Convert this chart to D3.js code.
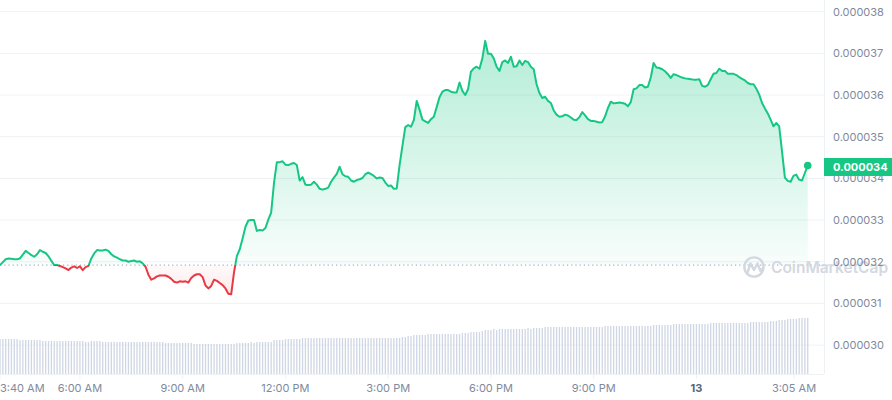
<!DOCTYPE html>
<html>
<head>
<meta charset="utf-8">
<title>Price chart 1D</title>
<script src="https://cdn.jsdelivr.net/npm/d3@7"></script>
<style>
  html, body { margin: 0; padding: 0; background: #fff; }
  svg { display: block; font-family: Inter, "Noto Sans", sans-serif; }
</style>
</head>
<body>
<svg id="chart" width="892" height="400"></svg>
<script>
// price every 5 minutes from 3:40 AM (12th), in units of 1e-6 USD
var prices = [
  31.92, 31.99, 32.06, 32.08, 32.07, 32.06, 32.06, 32.08, 32.17, 32.26,
  32.21, 32.16, 32.12, 32.18, 32.28, 32.24, 32.21, 32.13, 32.02, 31.92,
  31.92, 31.90, 31.87, 31.84, 31.80, 31.86, 31.89, 31.85, 31.89, 31.80,
  31.87, 31.90, 32.08, 32.20, 32.28, 32.27, 32.27, 32.29, 32.26, 32.18,
  32.13, 32.10, 32.06, 32.03, 32.03, 32.00, 32.02, 32.03, 32.00, 32.01,
  31.96, 31.88, 31.69, 31.57, 31.60, 31.65, 31.67, 31.67, 31.67, 31.64,
  31.59, 31.52, 31.50, 31.53, 31.52, 31.53, 31.50, 31.61, 31.67, 31.70,
  31.70, 31.63, 31.43, 31.36, 31.42, 31.57, 31.54, 31.49, 31.44, 31.36,
  31.23, 31.22, 31.75, 32.14, 32.30, 32.56, 32.84, 32.99, 33.00, 33.00,
  32.74, 32.76, 32.75, 32.81, 33.01, 33.18, 33.89, 34.39, 34.39, 34.41,
  34.33, 34.32, 34.35, 34.37, 34.32, 33.95, 34.03, 33.85, 33.84, 33.85,
  33.92, 33.85, 33.75, 33.73, 33.75, 33.78, 33.92, 34.02, 34.11, 34.28,
  34.10, 34.05, 34.04, 33.95, 33.92, 33.96, 33.98, 34.01, 34.10, 34.14,
  34.10, 34.06, 34.00, 34.02, 34.01, 33.90, 33.82, 33.83, 33.75, 33.76,
  34.32, 34.78, 35.23, 35.28, 35.24, 35.40, 35.86, 35.65, 35.41, 35.37,
  35.33, 35.42, 35.48, 35.71, 35.95, 36.08, 36.12, 36.12, 36.08, 36.06,
  36.06, 36.30, 36.10, 36.00, 36.14, 36.56, 36.64, 36.68, 36.63, 36.88,
  37.30, 36.99, 36.99, 36.88, 36.68, 36.58, 36.79, 36.83, 36.77, 36.92,
  36.68, 36.69, 36.83, 36.72, 36.82, 36.79, 36.68, 36.62, 36.26, 36.05,
  35.93, 35.96, 35.86, 35.81, 35.63, 35.53, 35.48, 35.49, 35.53, 35.51,
  35.46, 35.41, 35.40, 35.47, 35.59, 35.51, 35.42, 35.38, 35.38, 35.36,
  35.34, 35.35, 35.49, 35.69, 35.84, 35.80, 35.81, 35.82, 35.81, 35.79,
  35.73, 35.83, 36.14, 36.16, 36.24, 36.24, 36.18, 36.20, 36.42, 36.77,
  36.66, 36.65, 36.62, 36.57, 36.50, 36.41, 36.50, 36.48, 36.45, 36.42,
  36.40, 36.39, 36.38, 36.37, 36.37, 36.38, 36.22, 36.20, 36.24, 36.38,
  36.51, 36.53, 36.63, 36.58, 36.58, 36.51, 36.51, 36.51, 36.48, 36.43,
  36.39, 36.35, 36.29, 36.26, 36.26, 36.15, 36.01, 35.81, 35.68, 35.56,
  35.41, 35.25, 35.33, 35.25, 34.64, 34.02, 33.94, 33.92, 34.06, 34.09,
  33.97, 33.95, 34.13, 34.31
];

// rolling 24h volume for each 5 minute point (relative units)
var volume = [
  35,35,35,35,35,35,35,34,34,34, 34,34,34,34,34,33,33,33,33,33,
  33,33,33,33,33,33,33,33,33,33, 32,32,33,33,33,33,32,32,32,32,
  32,32,32,32,32,32,32,32,32,32, 32,32,32,32,32,32,32,32,31,31,
  31,31,31,31,31,31,31,31,30,30, 30,30,30,30,30,30,30,30,30,30,
  30,30,30,31,31,31,31,31,32,31, 32,32,32,32,32,32,34,34,34,34,
  35,35,35,35,35,35,36,36,36,36, 36,36,36,36,36,36,36,36,36,36,
  36,36,36,36,36,36,36,36,36,36, 36,36,36,36,36,36,36,36,36,36,
  36,37,37,38,38,39,39,39,39,39, 40,40,40,40,40,40,40,40,40,40,
  40,40,41,41,41,42,42,42,42,43, 44,44,44,45,44,45,45,45,45,45,
  45,45,45,45,45,46,45,46,46,46, 46,47,47,47,47,47,47,47,47,47,
  47,47,47,47,47,47,47,47,47,47, 47,47,48,48,48,48,48,48,48,48,
  48,48,48,48,48,48,48,48,48,49, 49,49,49,49,49,49,50,50,50,50,
  50,50,50,50,50,50,50,50,50,51, 51,51,51,51,51,51,51,51,51,51,
  51,51,51,52,52,52,52,52,52,52, 53,53,53,54,54,54,55,55,55,55,
  56,56,56,56
];

var yTicks = [30, 31, 32, 33, 34, 35, 36, 37, 38];
// [day, hour, minute]
var xTickTimes = [[12,3,40],[12,6,0],[12,9,0],[12,12,0],[12,15,0],[12,18,0],[12,21,0],[13,0,0],[13,3,5]];
var xTickLabels = ["3:40 AM","6:00 AM","9:00 AM","12:00 PM","3:00 PM","6:00 PM","9:00 PM","13","3:05 AM"];

var green = "#16c784", red = "#ea3943";
var plotRight = 824, plotBottom = 374;

var start = new Date(2024, 0, 12, 3, 40);
var data = prices.map(function(p, i) {
  return { t: d3.timeMinute.offset(start, 5 * i), p: p, v: volume[i] };
});
var open = prices[0];

var x = d3.scaleTime()
  .domain([start, d3.timeHour.offset(start, 24)])
  .range([0, 822]);
var y = d3.scaleLinear().domain([30, 38]).range([345.1, 11.7]);
var yVol = d3.scaleLinear().domain([0, d3.max(volume)]).range([plotBottom, plotBottom - d3.max(volume)]);

var svg = d3.select("#chart");
var defs = svg.append("defs");

var gGreen = defs.append("linearGradient").attr("id", "gGreen")
  .attr("gradientUnits", "userSpaceOnUse")
  .attr("x1", 0).attr("x2", 0).attr("y1", y(d3.max(prices))).attr("y2", y(open));
gGreen.append("stop").attr("offset", 0).attr("stop-color", green).attr("stop-opacity", 0.32);
gGreen.append("stop").attr("offset", 1).attr("stop-color", green).attr("stop-opacity", 0.03);

var gRed = defs.append("linearGradient").attr("id", "gRed")
  .attr("gradientUnits", "userSpaceOnUse")
  .attr("x1", 0).attr("x2", 0).attr("y1", y(open)).attr("y2", y(d3.min(prices)));
gRed.append("stop").attr("offset", 0).attr("stop-color", red).attr("stop-opacity", 0.02);
gRed.append("stop").attr("offset", 1).attr("stop-color", red).attr("stop-opacity", 0.12);

defs.append("clipPath").attr("id", "above").append("rect")
  .attr("x", -5).attr("y", 0).attr("width", plotRight + 5).attr("height", y(open));
defs.append("clipPath").attr("id", "below").append("rect")
  .attr("x", -5).attr("y", y(open)).attr("width", plotRight + 5).attr("height", 400 - y(open));

// grid
svg.append("g").selectAll("line").data(yTicks).enter().append("line")
  .attr("x1", 0).attr("x2", plotRight)
  .attr("y1", function(d) { return y(d); }).attr("y2", function(d) { return y(d); })
  .attr("stroke", "#eff2f5").attr("stroke-width", 1);
svg.append("line").attr("x1", plotRight + 0.5).attr("x2", plotRight + 0.5)
  .attr("y1", 0).attr("y2", plotBottom).attr("stroke", "#eff2f5");
svg.append("line").attr("x1", 0).attr("x2", plotRight)
  .attr("y1", plotBottom + 0.5).attr("y2", plotBottom + 0.5).attr("stroke", "#eff2f5");

// volume bars
svg.append("g").selectAll("rect").data(data).enter().append("rect")
  .attr("x", function(d) { return x(d.t) - 0.65; })
  .attr("width", 1.3)
  .attr("y", function(d) { return yVol(d.v); })
  .attr("height", function(d) { return plotBottom - yVol(d.v); })
  .attr("fill", "#cfd6e4");

// x ticks
var xt = svg.append("g");
xTickTimes.forEach(function(tt, i) {
  var t = new Date(2024, 0, tt[0], tt[1], tt[2]);
  var px = x(t);
  var lastTick = i == xTickTimes.length - 1;
  if (lastTick) px = px - 8; // the site draws its final tick a little left of the time
  xt.append("line").attr("x1", px).attr("x2", px)
    .attr("y1", plotBottom + 1).attr("y2", plotBottom + 5).attr("stroke", "#eff2f5");
  xt.append("text")
    .attr("x", px)
    .attr("y", 392)
    .attr("text-anchor", i == 0 ? "start" : "middle")
    .attr("font-size", "11px")
    .attr("font-weight", xTickLabels[i] == "13" ? 700 : 400)
    .attr("fill", xTickLabels[i] == "13" ? "#58667e" : "#808a9d")
    .text(xTickLabels[i]);
});

// areas
var area = d3.area()
  .x(function(d) { return x(d.t); })
  .y0(y(open))
  .y1(function(d) { return y(d.p); });
var line = d3.line()
  .x(function(d) { return x(d.t); })
  .y(function(d) { return y(d.p); });

svg.append("path").datum(data).attr("d", area)
  .attr("fill", "url(#gGreen)").attr("clip-path", "url(#above)");
svg.append("path").datum(data).attr("d", area)
  .attr("fill", "url(#gRed)").attr("clip-path", "url(#below)");

// open price reference
svg.append("line").attr("x1", 0).attr("x2", 832)
  .attr("y1", y(open)).attr("y2", y(open))
  .attr("stroke", "#a6b0c3").attr("stroke-width", 1.2).attr("stroke-dasharray", "1.2,3");

// watermark
var wm = svg.append("g").attr("fill", "none").attr("stroke", "#d3d8e1").attr("stroke-width", 2.4);
wm.append("circle").attr("cx", 754).attr("cy", 267).attr("r", 9.6);
wm.append("path").attr("d", "M747.5,272.5 L750.5,263.5 L754,270 L757.5,263.5 L760.5,271 L762.5,268.5")
  .attr("stroke-linejoin", "round").attr("stroke-linecap", "round");
svg.append("text").attr("x", 771).attr("y", 273)
  .attr("font-size", "15.5px").attr("font-weight", 600)
  .attr("fill", "#d3d8e1").text("CoinMarketCap");

// price line
svg.append("path").datum(data).attr("d", line)
  .attr("fill", "none").attr("stroke", green).attr("stroke-width", 2)
  .attr("stroke-linejoin", "round").attr("clip-path", "url(#above)");
svg.append("path").datum(data).attr("d", line)
  .attr("fill", "none").attr("stroke", red).attr("stroke-width", 2)
  .attr("stroke-linejoin", "round").attr("clip-path", "url(#below)");

var last = data[data.length - 1];
svg.append("circle").attr("cx", x(last.t)).attr("cy", y(last.p)).attr("r", 3.8).attr("fill", green);

// y axis labels
var fmt = function(v) { return (v * 1e-6).toFixed(6); };
svg.append("g").selectAll("text").data(yTicks).enter().append("text")
  .attr("x", 833)
  .attr("y", function(d) { return y(d); })
  .attr("dy", "0.35em")
  .attr("font-size", "11px")
  .attr("fill", "#808a9d")
  .text(fmt);

// current price badge
svg.append("rect").attr("x", plotRight).attr("y", y(last.p) - 7.5)
  .attr("width", 892 - plotRight).attr("height", 18).attr("fill", green);
svg.append("text").attr("x", 833).attr("y", y(last.p) + 1.5)
  .attr("dy", "0.35em").attr("font-size", "11px").attr("font-weight", 700)
  .attr("fill", "#fff").text(fmt(last.p));
</script>
</body>
</html>
